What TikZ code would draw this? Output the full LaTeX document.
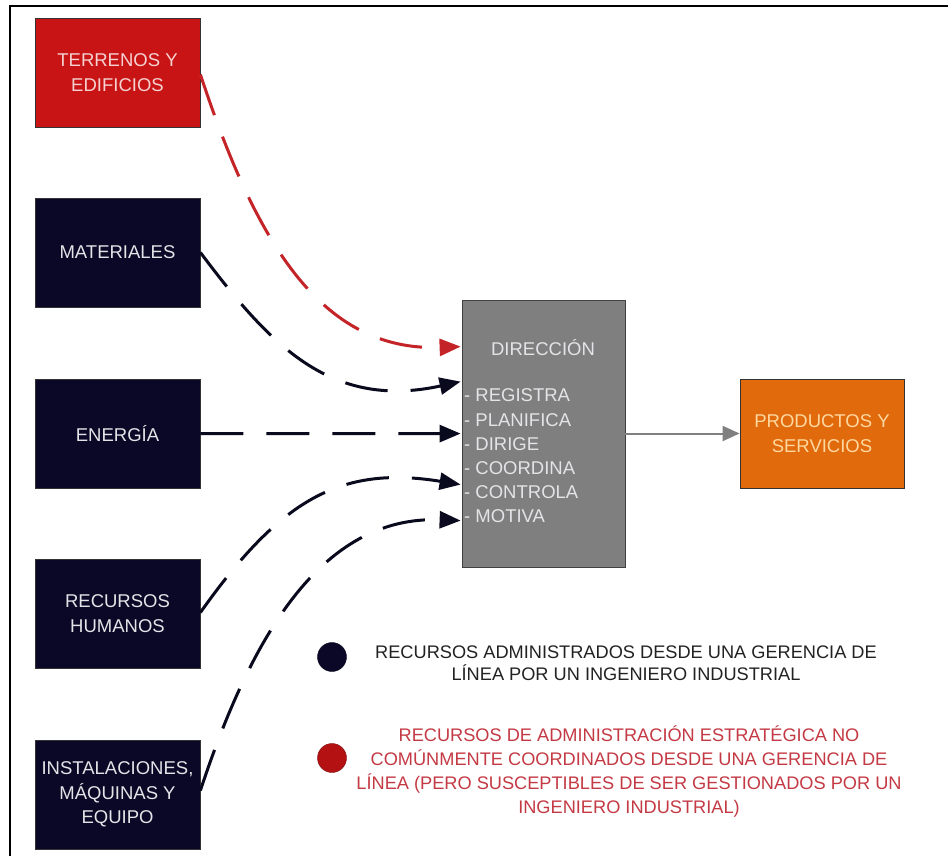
\documentclass[tikz,border=0pt]{standalone}
\usepackage{fontspec}
\setmainfont{Liberation Sans}
\usetikzlibrary{arrows.meta,calc}
\definecolor{navy}{HTML}{0A0826}
\definecolor{boxred}{HTML}{C81414}
\definecolor{boxorange}{HTML}{E06A0C}
\definecolor{boxgray}{HTML}{7F7F7F}
\definecolor{linered}{HTML}{C42428}
\definecolor{linedark}{HTML}{0A0A1E}
\definecolor{legred}{HTML}{C43A44}
\definecolor{legdark}{HTML}{222222}
\definecolor{txtlight}{HTML}{E4E4E8}
\definecolor{txtpink}{HTML}{F6D2D2}
\definecolor{txtcream}{HTML}{FFD8A0}
\begin{document}
\begin{tikzpicture}[x=1pt,y=-1pt,
  resbox/.style={draw=black!80,line width=0.8pt,minimum width=165pt,minimum height=109pt,
    inner sep=0pt,align=center,text=txtlight,fill=navy,
    font=\fontsize{18.5}{24.5}\selectfont},
  flow/.style={line width=3pt,dash pattern=on 43pt off 23pt,color=linedark,
    -{Triangle[length=21pt,width=17pt]}},
  txt/.style={font=\fontsize{18.5}{24.2}\selectfont,inner sep=0pt}
]
\useasboundingbox (0,0) rectangle (948,856);
\fill[white] (0,0) rectangle (948,856);
\draw[line width=2pt,black] (10,856) -- (10,6) -- (948,6);

% resource boxes
\node[resbox,fill=boxred,text=txtpink] (ter) at (117.5,72.5) {TERRENOS Y\\EDIFICIOS};
\node[resbox] (mat) at (117.5,252.5) {MATERIALES};
\node[resbox] (ene) at (117.5,433.5) {ENERGÍA};
\node[resbox] (rrh) at (117.5,613.5) {RECURSOS\\HUMANOS};
\node[resbox] (ins) at (117.5,794.5) {INSTALACIONES,\\MÁQUINAS Y\\EQUIPO};

% direction box
\node[draw=black!75,line width=0.8pt,fill=boxgray,minimum width=163pt,minimum height=267pt,inner sep=0pt] (dir) at (543.5,433.5) {};
\node[txt,text=txtlight] (dirt) at (543,348) {DIRECCIÓN};
\node[txt,text=txtlight,anchor=west,align=left] (dirl) at (464,456)
  {- REGISTRA\\- PLANIFICA\\- DIRIGE\\- COORDINA\\- CONTROLA\\- MOTIVA};

% products box
\node[resbox,fill=boxorange,text=txtcream,minimum width=164pt] (pro) at (822,433.5) {PRODUCTOS Y\\SERVICIOS};

% arrow targets on the left edge of the direction box
\coordinate (e1) at ($(dir.north west)+(-1,47)$);
\coordinate (e2) at ($(dir.north west)+(-1,82)$);
\coordinate (e3) at ($(dir.north west)+(-1,134)$);
\coordinate (e4) at ($(dir.north west)+(-1,185)$);
\coordinate (e5) at ($(dir.north west)+(-1,221)$);

\draw[flow,color=linered] ($(ter.east)+(0,2)$) .. controls (255,240) and (320,352) .. (e1);
\draw[flow] (mat.east) .. controls (270,345) and (330,410) .. (e2);
\draw[flow] (ene.east) -- (e3);
\draw[flow] ($(rrh.east)+(0,-1)$) .. controls (280,500) and (340,465) .. (e4);
\draw[flow] ($(ins.east)+(0,-4)$) .. controls (250,640) and (320,515) .. (e5);

\draw[line width=2pt,color=gray,-{Triangle[length=17pt,width=15pt]}] (dir.east) -- (pro.west);

% legend
\node[circle,fill=navy,draw=navy!80!black,minimum size=29pt,inner sep=0pt] (dotb) at (332,657) {};
\node[circle,fill=boxred!90!black,draw=boxred!60!black,minimum size=29pt,inner sep=0pt] (dotr) at (332,758) {};
\node[txt,text=legdark,align=center,font=\fontsize{18.2}{22.5}\selectfont] (legb) at (626,663)
  {RECURSOS ADMINISTRADOS DESDE UNA GERENCIA DE\\LÍNEA POR UN INGENIERO INDUSTRIAL};
\node[txt,text=legred,align=center,font=\fontsize{18.2}{24}\selectfont] (legr) at (629,771)
  {RECURSOS DE ADMINISTRACIÓN ESTRATÉGICA NO\\COMÚNMENTE COORDINADOS DESDE UNA GERENCIA DE\\LÍNEA (PERO SUSCEPTIBLES DE SER GESTIONADOS POR UN\\INGENIERO INDUSTRIAL)};
\end{tikzpicture}
\end{document}
